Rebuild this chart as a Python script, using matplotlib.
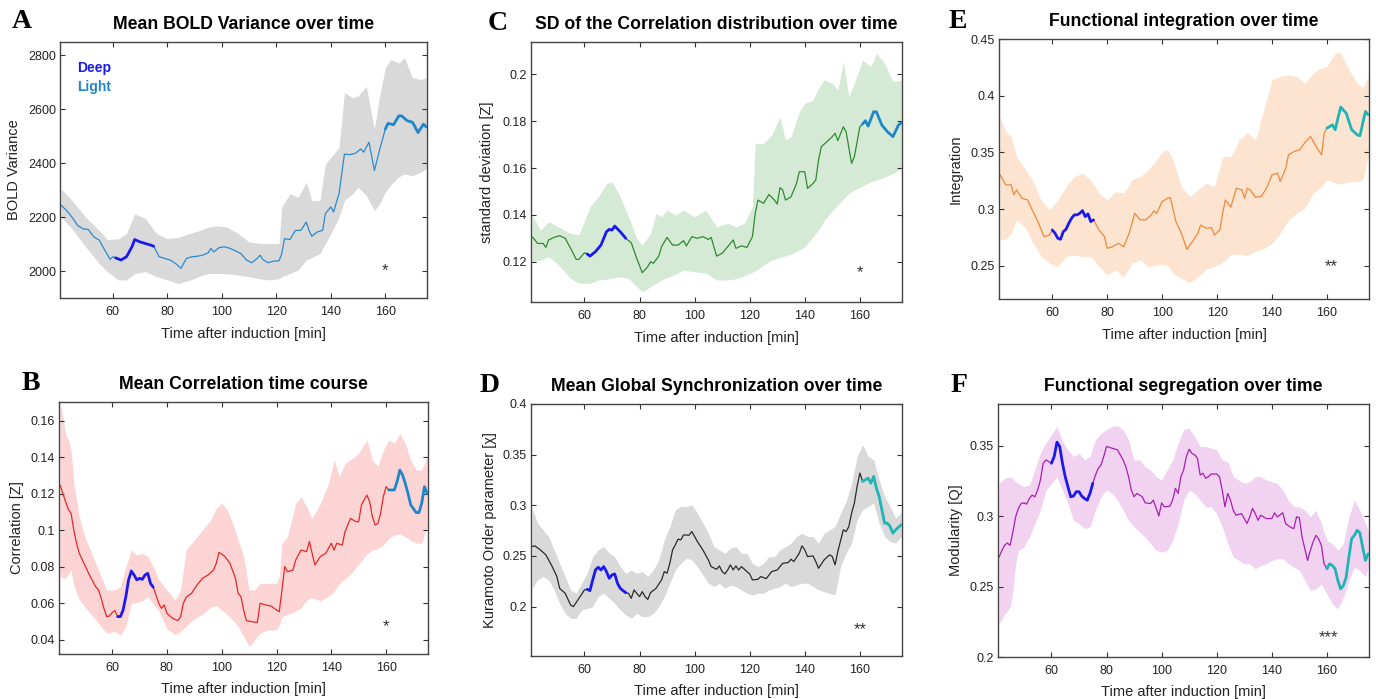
import numpy as np
import matplotlib
matplotlib.use('Agg')
import matplotlib.pyplot as plt
from matplotlib.ticker import FuncFormatter

plt.rcParams['font.family'] = ['Liberation Sans', 'DejaVu Sans']

# ---------------- data ----------------
# A: Mean BOLD variance
tA = [41, 43, 45, 47, 49, 51, 53, 55, 57, 59, 60, 61, 63, 65, 67, 68, 70, 72, 74, 75, 77, 79, 81, 83, 85, 87, 89,
      91, 93, 95, 96, 97, 99, 101, 103, 105, 107, 109, 111, 113, 114, 115, 117, 119, 121, 122, 123, 125, 127, 129,
      131, 132, 133, 135, 137, 138, 140, 141, 143, 145, 147, 149, 151, 152, 154, 156, 158, 160, 161, 163, 165, 166,
      168, 170, 172, 174, 175]
mA = [2244, 2225, 2200, 2170, 2157, 2154, 2127, 2115, 2078, 2043, 2053, 2049, 2041, 2053, 2090, 2117, 2108, 2102,
      2096, 2092, 2053, 2047, 2041, 2028, 2010, 2047, 2053, 2055, 2059, 2068, 2084, 2071, 2087, 2090, 2084, 2075,
      2065, 2041, 2031, 2047, 2059, 2043, 2031, 2037, 2038, 2065, 2120, 2117, 2151, 2151, 2182, 2151, 2129, 2145,
      2151, 2213, 2238, 2219, 2287, 2434, 2432, 2437, 2453, 2441, 2478, 2373, 2453, 2527, 2548, 2543, 2576, 2576,
      2558, 2552, 2514, 2545, 2535]
tbA = [41, 45, 50, 55, 58, 62, 65, 68, 72, 76, 80, 84, 88, 92, 95, 98, 102, 106, 110, 115, 118, 121, 122, 125, 128,
       131, 133, 136, 138, 140, 143, 145, 148, 150, 153, 156, 158, 160, 162, 165, 167, 170, 173, 175]
hiA = [2305, 2262, 2200, 2151, 2117, 2120, 2139, 2213, 2194, 2139, 2120, 2125, 2139, 2151, 2163, 2168, 2163, 2139,
       2108, 2102, 2102, 2102, 2238, 2287, 2274, 2330, 2262, 2262, 2397, 2422, 2459, 2662, 2643, 2650, 2686, 2527,
       2656, 2754, 2785, 2772, 2791, 2717, 2711, 2717]
loA = [2200, 2157, 2090, 2028, 1998, 1967, 1967, 1991, 1998, 1979, 1967, 1954, 1965, 1982, 1991, 1991, 1990, 1985,
       1979, 1969, 1967, 1972, 1979, 1991, 2004, 2041, 2050, 2065, 2102, 2139, 2200, 2262, 2287, 2311, 2281, 2225,
       2250, 2293, 2320, 2350, 2360, 2354, 2367, 2379]

# C: SD of the correlation distribution
tC = [41, 42, 43, 45, 46, 47, 49, 51, 53, 55, 57, 58, 60, 61, 62, 64, 66, 68, 69, 70, 71, 73, 75, 77, 79, 81, 83, 84,
      85, 87, 88, 90, 92, 94, 96, 97, 99, 101, 103, 105, 106, 108, 110, 112, 114, 115, 117, 119, 121, 122, 123, 125,
      127, 129, 130, 131, 132, 133, 135, 137, 138, 140, 141, 143, 144, 145, 146, 148, 150, 151, 152, 154, 155, 157,
      158, 160, 161, 162, 163, 165, 166, 168, 170, 172, 174, 175]
mC = [0.1307, 0.1293, 0.1278, 0.1278, 0.1261, 0.1293, 0.1304, 0.1311, 0.1300, 0.1257, 0.1210, 0.1210, 0.1238,
      0.1233, 0.1224, 0.1243, 0.1271, 0.1328, 0.1338, 0.1335, 0.1352, 0.1328, 0.1300, 0.1281, 0.1214, 0.1153,
      0.1179, 0.1200, 0.1193, 0.1224, 0.1264, 0.1304, 0.1271, 0.1271, 0.1290, 0.1267, 0.1307, 0.1300, 0.1307,
      0.1295, 0.1304, 0.1224, 0.1236, 0.1264, 0.1293, 0.1257, 0.1268, 0.1261, 0.1307, 0.1406, 0.1463, 0.1449,
      0.1487, 0.1463, 0.1446, 0.1516, 0.1506, 0.1463, 0.1477, 0.1534, 0.1584, 0.1584, 0.1513, 0.1534, 0.1549,
      0.1634, 0.1691, 0.1712, 0.1734, 0.1748, 0.1717, 0.1776, 0.1755, 0.1620, 0.1648, 0.1776, 0.1788, 0.1802,
      0.1779, 0.1840, 0.1840, 0.1783, 0.1755, 0.1734, 0.1783, 0.1793]
tbC = [41, 44, 47, 50, 55, 58, 62, 65, 68, 70, 73, 76, 79, 81, 84, 86, 88, 90, 93, 96, 100, 104, 108, 112, 115, 118,
       121, 122, 125, 128, 131, 133, 135, 138, 140, 143, 145, 147, 150, 152, 154, 156, 158, 161, 164, 166, 169, 172,
       175]
hiC = [0.1399, 0.1335, 0.1371, 0.1352, 0.1321, 0.1314, 0.1435, 0.1477, 0.1534, 0.1541, 0.1477, 0.1392, 0.1300,
       0.1271, 0.1321, 0.1406, 0.1392, 0.1420, 0.1399, 0.1420, 0.1392, 0.1420, 0.1349, 0.1364, 0.1349, 0.1364,
       0.1435, 0.1705, 0.1705, 0.1741, 0.1819, 0.1719, 0.1734, 0.1840, 0.1876, 0.1890, 0.1940, 0.1976, 0.1961,
       0.1933, 0.2054, 0.1904, 0.1961, 0.2061, 0.2032, 0.2089, 0.2047, 0.1968, 0.1976]
loC = [0.1200, 0.1207, 0.1221, 0.1193, 0.1129, 0.1108, 0.1108, 0.1122, 0.1125, 0.1130, 0.1136, 0.1129, 0.1093,
       0.1072, 0.1093, 0.1108, 0.1122, 0.1132, 0.1146, 0.1164, 0.1157, 0.1152, 0.1122, 0.1122, 0.1127, 0.1140,
       0.1155, 0.1160, 0.1186, 0.1207, 0.1218, 0.1225, 0.1232, 0.1250, 0.1264, 0.1307, 0.1335, 0.1375, 0.1417,
       0.1442, 0.1467, 0.1492, 0.1506, 0.1525, 0.1541, 0.1548, 0.1562, 0.1577, 0.1598]

# E: Functional integration
tE = [41, 43, 45, 46, 47, 49, 51, 53, 55, 57, 59, 60, 61, 62, 63, 64, 65, 66, 67, 68, 69, 70, 71, 72, 73, 74, 75, 77,
      79, 80, 82, 84, 86, 88, 90, 92, 94, 96, 97, 98, 100, 102, 103, 105, 107, 109, 111, 113, 114, 116, 118, 119, 121,
      122, 123, 125, 127, 129, 130, 131, 132, 134, 136, 138, 140, 142, 143, 145, 146, 148, 150, 152, 154, 156, 158,
      159, 160, 162, 163, 164, 165, 167, 169, 171, 172, 174, 175]
mE = [0.3301, 0.3213, 0.3213, 0.3125, 0.3169, 0.3095, 0.3080, 0.2977, 0.2874, 0.2756, 0.2771, 0.2815, 0.2786,
      0.2742, 0.2733, 0.2800, 0.2821, 0.2874, 0.2918, 0.2948, 0.2948, 0.2962, 0.2986, 0.2933, 0.2957, 0.2889,
      0.2904, 0.2815, 0.2756, 0.2653, 0.2668, 0.2697, 0.2668, 0.2786, 0.2962, 0.2904, 0.2904, 0.2948, 0.2983,
      0.2962, 0.3066, 0.3095, 0.3101, 0.2889, 0.2786, 0.2644, 0.2712, 0.2786, 0.2859, 0.2830, 0.2836, 0.2771,
      0.2815, 0.2962, 0.3080, 0.3016, 0.3183, 0.3169, 0.3095, 0.3183, 0.3169, 0.3104, 0.3110, 0.3183, 0.3301,
      0.3316, 0.3242, 0.3360, 0.3478, 0.3507, 0.3522, 0.3587, 0.3640, 0.3552, 0.3478, 0.3670, 0.3714, 0.3743,
      0.3699, 0.3802, 0.3899, 0.3846, 0.3699, 0.3655, 0.3646, 0.3861, 0.3832]
tbE = [41, 43, 45, 47, 50, 53, 56, 59, 62, 65, 68, 71, 74, 77, 80, 83, 86, 89, 92, 95, 98, 100, 102, 104, 107, 110,
       113, 116, 119, 122, 125, 128, 131, 134, 137, 140, 143, 146, 149, 152, 155, 158, 160, 163, 165, 168, 171, 173,
       175]
hiE = [0.3817, 0.3684, 0.3640, 0.3463, 0.3360, 0.3242, 0.3080, 0.2992, 0.3080, 0.3198, 0.3287, 0.3316, 0.3257,
       0.3139, 0.3080, 0.3154, 0.3139, 0.3257, 0.3287, 0.3346, 0.3434, 0.3507, 0.3522, 0.3434, 0.3198, 0.3110,
       0.3169, 0.3228, 0.3198, 0.3463, 0.3463, 0.3611, 0.3670, 0.3611, 0.3876, 0.4141, 0.4170, 0.4185, 0.4170,
       0.4111, 0.4200, 0.4244, 0.4259, 0.4377, 0.4377, 0.4229, 0.4111, 0.4067, 0.4170]
loE = [0.2727, 0.2735, 0.2780, 0.2904, 0.2845, 0.2697, 0.2580, 0.2521, 0.2491, 0.2580, 0.2594, 0.2580, 0.2580,
       0.2491, 0.2418, 0.2462, 0.2403, 0.2521, 0.2550, 0.2491, 0.2506, 0.2515, 0.2500, 0.2432, 0.2388, 0.2350,
       0.2400, 0.2470, 0.2495, 0.2530, 0.2600, 0.2600, 0.2590, 0.2628, 0.2650, 0.2697, 0.2786, 0.2904, 0.2962,
       0.3007, 0.3139, 0.3198, 0.3260, 0.3230, 0.3220, 0.3242, 0.3242, 0.3257, 0.3463]

# B: Mean correlation
tB = [41, 42, 43, 44, 45, 46, 47, 48, 50, 52, 54, 55, 56, 57, 58, 59, 60, 61, 62, 63, 64, 65, 66, 67, 68, 69, 70, 71,
      72, 73, 74, 75, 76, 77, 78, 79, 80, 82, 84, 85, 86, 87, 89, 91, 93, 95, 97, 98, 99, 101, 103, 105, 106, 107, 108,
      109, 111, 113, 114, 116, 118, 120, 121, 122, 123, 124, 126, 127, 129, 131, 132, 134, 136, 138, 140, 141, 142,
      144, 145, 147, 149, 150, 151, 153, 154, 155, 156, 157, 158, 159, 160, 161, 163, 164, 165, 166, 167, 168, 169,
      171, 172, 173, 174, 175]
mB = [0.1249, 0.1203, 0.1158, 0.1116, 0.1094, 0.1003, 0.0930, 0.0875, 0.0811, 0.0747, 0.0692, 0.0674, 0.0628,
      0.0573, 0.0528, 0.0531, 0.0550, 0.0561, 0.0528, 0.0528, 0.0564, 0.0637, 0.0729, 0.0778, 0.0756, 0.0729,
      0.0738, 0.0732, 0.0756, 0.0765, 0.0710, 0.0689, 0.0647, 0.0601, 0.0573, 0.0592, 0.0546, 0.0519, 0.0506,
      0.0528, 0.0601, 0.0634, 0.0656, 0.0701, 0.0738, 0.0756, 0.0783, 0.0820, 0.0880, 0.0860, 0.0820, 0.0738,
      0.0656, 0.0637, 0.0564, 0.0506, 0.0500, 0.0495, 0.0601, 0.0592, 0.0586, 0.0564, 0.0555, 0.0674, 0.0802,
      0.0774, 0.0783, 0.0838, 0.0893, 0.0884, 0.0939, 0.0811, 0.0857, 0.0875, 0.0930, 0.0893, 0.0930, 0.0920,
      0.0993, 0.1066, 0.1048, 0.1048, 0.1140, 0.1194, 0.1158, 0.1076, 0.1030, 0.1039, 0.1094, 0.1185, 0.1240,
      0.1222, 0.1222, 0.1267, 0.1331, 0.1304, 0.1258, 0.1203, 0.1140, 0.1098, 0.1098, 0.1149, 0.1240, 0.1203]
tbB = [41, 42, 43, 44, 45, 46, 48, 50, 53, 56, 58, 61, 63, 65, 67, 69, 71, 73, 75, 77, 80, 83, 85, 87, 90, 93, 96, 98,
       100, 102, 104, 106, 108, 110, 112, 114, 117, 120, 121, 122, 124, 127, 129, 131, 133, 136, 139, 141, 143, 145,
       147, 150, 153, 155, 157, 159, 161, 163, 165, 167, 169, 171, 173, 175]
hiB = [0.1706, 0.1623, 0.1532, 0.1496, 0.1441, 0.1258, 0.1076, 0.0966, 0.0857, 0.0747, 0.0674, 0.0674, 0.0692,
       0.0802, 0.0893, 0.0866, 0.0875, 0.0857, 0.0802, 0.0729, 0.0674, 0.0619, 0.0674, 0.0893, 0.0948, 0.1003,
       0.1057, 0.1121, 0.1149, 0.1112, 0.1039, 0.0948, 0.0857, 0.0674, 0.0674, 0.0710, 0.0710, 0.0710, 0.0747,
       0.0930, 0.0966, 0.1149, 0.1185, 0.1131, 0.1066, 0.1149, 0.1258, 0.1386, 0.1295, 0.1368, 0.1386, 0.1423,
       0.1496, 0.1386, 0.1350, 0.1441, 0.1496, 0.1478, 0.1532, 0.1478, 0.1386, 0.1331, 0.1331, 0.1405]
loB = [0.0747, 0.0742, 0.0738, 0.0760, 0.0783, 0.0700, 0.0620, 0.0583, 0.0528, 0.0473, 0.0437, 0.0446, 0.0427,
       0.0473, 0.0601, 0.0605, 0.0615, 0.0637, 0.0600, 0.0560, 0.0460, 0.0430, 0.0446, 0.0475, 0.0515, 0.0540,
       0.0580, 0.0590, 0.0564, 0.0540, 0.0510, 0.0473, 0.0418, 0.0363, 0.0400, 0.0437, 0.0455, 0.0455, 0.0480,
       0.0528, 0.0540, 0.0558, 0.0575, 0.0619, 0.0630, 0.0615, 0.0640, 0.0665, 0.0710, 0.0735, 0.0760, 0.0815,
       0.0870, 0.0893, 0.0900, 0.0920, 0.0957, 0.0975, 0.0980, 0.0966, 0.0945, 0.0930, 0.0930, 0.1021]

# D: Mean global synchronization
tD = [41, 42, 44, 46, 48, 50, 51, 53, 55, 56, 58, 60, 61, 62, 63, 64, 65, 66, 67, 68, 69, 70, 71, 72, 73, 74, 75, 76,
      77, 78, 79, 80, 81, 82, 83, 84, 86, 88, 89, 90, 91, 92, 93, 94, 95, 96, 98, 99, 100, 101, 103, 105, 106, 108,
      109, 110, 111, 112, 113, 114, 115, 116, 117, 119, 120, 121, 123, 124, 126, 128, 130, 131, 132, 134, 135, 136,
      138, 139, 140, 141, 143, 144, 145, 147, 149, 150, 151, 152, 154, 155, 156, 157, 158, 159, 160, 161, 162, 163,
      164, 165, 166, 167, 168, 169, 170, 171, 172, 173, 174, 175]
mD = [0.2593, 0.2600, 0.2560, 0.2511, 0.2412, 0.2297, 0.2181, 0.2132, 0.2016, 0.2000, 0.2082, 0.2165, 0.2171,
      0.2158, 0.2264, 0.2362, 0.2389, 0.2362, 0.2395, 0.2346, 0.2280, 0.2313, 0.2323, 0.2231, 0.2181, 0.2158,
      0.2138, 0.2132, 0.2082, 0.2165, 0.2132, 0.2099, 0.2148, 0.2099, 0.2072, 0.2138, 0.2181, 0.2264, 0.2346,
      0.2330, 0.2428, 0.2560, 0.2610, 0.2666, 0.2659, 0.2708, 0.2705, 0.2741, 0.2692, 0.2643, 0.2560, 0.2461,
      0.2395, 0.2369, 0.2402, 0.2346, 0.2323, 0.2362, 0.2412, 0.2362, 0.2402, 0.2362, 0.2395, 0.2346, 0.2323,
      0.2264, 0.2270, 0.2297, 0.2277, 0.2346, 0.2362, 0.2395, 0.2428, 0.2435, 0.2468, 0.2445, 0.2527, 0.2600,
      0.2560, 0.2494, 0.2501, 0.2445, 0.2379, 0.2461, 0.2511, 0.2494, 0.2412, 0.2544, 0.2758, 0.2741, 0.2791,
      0.2923, 0.3021, 0.3186, 0.3318, 0.3236, 0.3252, 0.3269, 0.3219, 0.3285, 0.3170, 0.3087, 0.2956, 0.2824,
      0.2824, 0.2791, 0.2725, 0.2758, 0.2784, 0.2807]
tbD = list(range(41, 176, 2))
hiD = [0.2972, 0.2824, 0.2758, 0.2692, 0.2560, 0.2428, 0.2297, 0.2165, 0.2132, 0.2231, 0.2330, 0.2494, 0.2560,
       0.2593, 0.2527, 0.2494, 0.2395, 0.2330, 0.2362, 0.2330, 0.2346, 0.2297, 0.2362, 0.2461, 0.2659, 0.2791,
       0.2956, 0.2989, 0.2989, 0.3005, 0.2923, 0.2824, 0.2725, 0.2593, 0.2560, 0.2527, 0.2577, 0.2593, 0.2527,
       0.2527, 0.2428, 0.2395, 0.2428, 0.2494, 0.2494, 0.2560, 0.2593, 0.2626, 0.2692, 0.2725, 0.2692, 0.2692,
       0.2626, 0.2725, 0.2758, 0.2791, 0.2923, 0.3038, 0.3219, 0.3483, 0.3598, 0.3483, 0.3450, 0.3252, 0.3087,
       0.2989, 0.2873, 0.2923]
loD = [0.2181, 0.2264, 0.2297, 0.2264, 0.2165, 0.2033, 0.1934, 0.1885, 0.1885, 0.1967, 0.1984, 0.2000, 0.2099,
       0.2132, 0.2082, 0.2033, 0.1967, 0.1918, 0.1885, 0.1934, 0.1901, 0.1901, 0.1934, 0.2000, 0.2099, 0.2231,
       0.2362, 0.2428, 0.2478, 0.2461, 0.2395, 0.2313, 0.2231, 0.2198, 0.2231, 0.2181, 0.2214, 0.2198, 0.2165,
       0.2132, 0.2115, 0.2132, 0.2132, 0.2165, 0.2181, 0.2198, 0.2231, 0.2198, 0.2214, 0.2231, 0.2231, 0.2198,
       0.2165, 0.2148, 0.2132, 0.2115, 0.2395, 0.2527, 0.2626, 0.2857, 0.2956, 0.2989, 0.3021, 0.2824, 0.2692,
       0.2643, 0.2626, 0.2692]

# F: Functional segregation
tF = [41, 42, 43, 44, 45, 46, 47, 48, 49, 50, 51, 52, 53, 54, 55, 56, 57, 58, 59, 60, 61, 62, 63, 64, 65, 66, 67, 68,
      69, 70, 71, 72, 73, 74, 75, 76, 77, 78, 79, 80, 82, 84, 86, 87, 88, 89, 90, 91, 93, 94, 96, 97, 99, 100, 101,
      103, 104, 105, 106, 107, 108, 109, 110, 111, 112, 113, 114, 115, 116, 117, 118, 120, 121, 122, 123, 124, 125,
      126, 127, 129, 131, 132, 133, 134, 135, 136, 138, 139, 140, 141, 142, 144, 145, 147, 148, 149, 150, 151, 153,
      154, 155, 156, 157, 158, 159, 160, 161, 162, 163, 164, 165, 166, 167, 168, 169, 170, 171, 172, 173, 174, 175]
mF = [0.2710, 0.2757, 0.2793, 0.2810, 0.2793, 0.2888, 0.2995, 0.3055, 0.3090, 0.3095, 0.3086, 0.3126, 0.3150,
      0.3138, 0.3186, 0.3257, 0.3376, 0.3400, 0.3388, 0.3376, 0.3424, 0.3526, 0.3495, 0.3376, 0.3281, 0.3209,
      0.3138, 0.3143, 0.3174, 0.3174, 0.3143, 0.3126, 0.3114, 0.3162, 0.3233, 0.3293, 0.3340, 0.3364, 0.3424,
      0.3495, 0.3483, 0.3471, 0.3400, 0.3352, 0.3281, 0.3186, 0.3138, 0.3162, 0.3138, 0.3095, 0.3090, 0.3114,
      0.3002, 0.3095, 0.3067, 0.3071, 0.3114, 0.3198, 0.3162, 0.3281, 0.3329, 0.3424, 0.3476, 0.3447, 0.3436,
      0.3412, 0.3293, 0.3305, 0.3269, 0.3281, 0.3300, 0.3300, 0.3281, 0.3186, 0.3067, 0.3162, 0.3114, 0.3043,
      0.3007, 0.3019, 0.2948, 0.2995, 0.3055, 0.3019, 0.2971, 0.3007, 0.2983, 0.2983, 0.2983, 0.3024, 0.2995,
      0.3024, 0.2948, 0.2919, 0.2912, 0.2995, 0.2990, 0.2852, 0.2686, 0.2757, 0.2817, 0.2864, 0.2840, 0.2793,
      0.2662, 0.2626, 0.2662, 0.2650, 0.2626, 0.2543, 0.2484, 0.2507, 0.2567, 0.2710, 0.2840, 0.2864, 0.2900,
      0.2881, 0.2781, 0.2686, 0.2733]
tbF = [41, 43, 45, 46, 47, 48] + list(range(50, 176, 2)) + [175]
hiF = [0.3233, 0.3269, 0.3281, 0.3265, 0.3245, 0.3233, 0.3210, 0.3220, 0.3330, 0.3450, 0.3520, 0.3580, 0.3638,
       0.3531, 0.3471, 0.3424, 0.3448, 0.3400, 0.3424, 0.3543, 0.3590, 0.3614, 0.3638, 0.3643, 0.3614, 0.3543,
       0.3400, 0.3400, 0.3352, 0.3329, 0.3281, 0.3257, 0.3329, 0.3400, 0.3519, 0.3614, 0.3626, 0.3566, 0.3495,
       0.3495, 0.3483, 0.3471, 0.3400, 0.3388, 0.3281, 0.3257, 0.3233, 0.3245, 0.3281, 0.3281, 0.3257, 0.3245,
       0.3233, 0.3186, 0.3114, 0.3067, 0.3067, 0.3043, 0.2995, 0.3043, 0.2948, 0.2829, 0.2805, 0.2757, 0.2805,
       0.2995, 0.3114, 0.3043, 0.2948, 0.2900]
loF = [0.2234, 0.2305, 0.2353, 0.2472, 0.2662, 0.2757, 0.2781, 0.2852, 0.2948, 0.3043, 0.3186, 0.3233, 0.3281,
       0.3186, 0.3090, 0.2971, 0.2948, 0.2912, 0.2924, 0.3043, 0.3138, 0.3186, 0.3162, 0.3114, 0.3043, 0.2971,
       0.2924, 0.2888, 0.2852, 0.2805, 0.2757, 0.2745, 0.2757, 0.2829, 0.2948, 0.3114, 0.3186, 0.3162, 0.3114,
       0.3067, 0.3067, 0.3019, 0.2924, 0.2805, 0.2710, 0.2686, 0.2662, 0.2662, 0.2626, 0.2650, 0.2662, 0.2686,
       0.2698, 0.2698, 0.2662, 0.2638, 0.2614, 0.2543, 0.2472, 0.2484, 0.2519, 0.2448, 0.2376, 0.2341, 0.2424,
       0.2543, 0.2638, 0.2614, 0.2567, 0.2638]

# ---------------- style ----------------
DEEP = '#1a1aee'
LBLUE = '#1f86cc'
CYAN = '#1fb5b5'
W, H = 1376, 699

panels = [
    dict(letter='A', title='Mean BOLD Variance over time', ylabel='BOLD Variance',
         t=tA, m=mA, tb=tbA, hi=hiA, lo=loA, lc='#2b8ad0', fc='#d9d9d9', light=LBLUE,
         deep_win=(61, 75), light_win=(160, 175), ylim=(1900, 2850), yticks=[2000, 2200, 2400, 2600, 2800],
         stars='*', star_xy=(160, 2000), box=(60, 42, 427, 298), lpos=(12, 28), ylx=-0.106),
    dict(letter='C', title='SD of the Correlation distribution over time', ylabel='standard deviation [Z]',
         t=tC, m=mC, tb=tbC, hi=hiC, lo=loC, lc='#2e8b2e', fc='#d4ead4', light=LBLUE,
         deep_win=(61, 75), light_win=(161, 175), ylim=(0.1028, 0.2138), yticks=[0.12, 0.14, 0.16, 0.18, 0.2],
         stars='*', star_xy=(160, 0.1152), box=(531, 42, 902, 302), lpos=(488, 30), ylx=-0.1),
    dict(letter='E', title='Functional integration over time', ylabel='Integration',
         t=tE, m=mE, tb=tbE, hi=hiE, lo=loE, lc='#f0893a', fc='#fde4d1', light=CYAN,
         deep_win=(60, 75), light_win=(160, 175), ylim=(0.2206, 0.45), yticks=[0.25, 0.3, 0.35, 0.4, 0.45],
         stars='**', star_xy=(161.5, 0.249), box=(999, 39, 1369, 299), lpos=(949, 28), ylx=-0.097),
    dict(letter='B', title='Mean Correlation time course', ylabel='Correlation [Z]',
         t=tB, m=mB, tb=tbB, hi=hiB, lo=loB, lc='#e62828', fc='#fdd4d4', light=LBLUE,
         deep_win=(62, 75), light_win=(161, 175), ylim=(0.0323, 0.1704),
         yticks=[0.04, 0.06, 0.08, 0.1, 0.12, 0.14, 0.16],
         stars='*', star_xy=(160, 0.0475), box=(59, 402, 428, 654), lpos=(22, 390), ylx=-0.095),
    dict(letter='D', title='Mean Global Synchronization over time', ylabel='Kuramoto Order parameter [χ]',
         t=tD, m=mD, tb=tbD, hi=hiD, lo=loD, lc='#2a2a2a', fc='#d9d9d9', light=CYAN,
         deep_win=(61, 75), light_win=(161, 175), ylim=(0.1513, 0.4), yticks=[0.2, 0.25, 0.3, 0.35, 0.4],
         stars='**', star_xy=(160, 0.177), box=(531, 404, 902, 656), lpos=(480, 392), ylx=-0.092),
    dict(letter='F', title='Functional segregation over time', ylabel='Modularity [Q]',
         t=tF, m=mF, tb=tbF, hi=hiF, lo=loF, lc='#a820b0', fc='#f1d3f1', light=CYAN,
         deep_win=(60, 75), light_win=(160, 175), ylim=(0.2, 0.3797), yticks=[0.2, 0.25, 0.3, 0.35],
         stars='***', star_xy=(160.5, 0.214), box=(998, 404, 1369, 657), lpos=(951, 392), ylx=-0.094),
]

fig = plt.figure(figsize=(W / 100, H / 100), dpi=100)

for p in panels:
    l, tp, r, b = p['box']
    ax = fig.add_axes([l / W, 1 - b / H, (r - l) / W, (b - tp) / H])
    t = np.array(p['t'])
    m = np.array(p['m'])
    ax.fill_between(p['tb'], p['lo'], p['hi'], color=p['fc'], lw=0, zorder=1)
    ax.plot(t, m, color=p['lc'], lw=0.9, zorder=2)
    d0, d1 = p['deep_win']
    k = (t >= d0) & (t <= d1)
    ax.plot(t[k], m[k], color=DEEP, lw=2.0, zorder=3, solid_capstyle='round')
    l0, l1 = p['light_win']
    k = (t >= l0) & (t <= l1)
    ax.plot(t[k], m[k], color=p['light'], lw=2.0, zorder=3, solid_capstyle='round')

    ax.set_xlim(40.6, 175.3)
    ax.set_ylim(*p['ylim'])
    ax.set_xticks([60, 80, 100, 120, 140, 160])
    ax.set_yticks(p['yticks'])
    ax.yaxis.set_major_formatter(FuncFormatter(lambda v, pos: ('%g' % round(v, 4))))
    ax.tick_params(direction='in', length=3.5, width=0.8, top=True, right=True, labelsize=9,
                   colors='#333333', labelcolor='#222222')
    ax.tick_params(axis='x', pad=6)
    ax.tick_params(axis='y', pad=3)
    for s in ax.spines.values():
        s.set_color('#444444')
        s.set_linewidth(1.0)

    ax.set_xlabel('Time after induction [min]', fontsize=10.5, color='#222222')
    ax.xaxis.set_label_coords(0.5, -0.112)
    ax.set_ylabel(p['ylabel'], fontsize=10.5, color='#222222')
    ax.yaxis.set_label_coords(p['ylx'], 0.5)
    ax.set_title(p['title'], fontsize=12.7, fontweight='bold', pad=9.5)

    ax.text(p['star_xy'][0], p['star_xy'][1], p['stars'], ha='center', va='center', fontsize=12,
            color='#333333', zorder=4)

    fig.text(p['lpos'][0] / W, 1 - p['lpos'][1] / H, p['letter'], family='Liberation Serif',
             fontweight='bold', fontsize=20, ha='left', va='baseline')

    if p['letter'] == 'A':
        ax.text(0.046, 0.898, 'Deep', transform=ax.transAxes, color=DEEP, fontweight='bold', fontsize=10,
                va='center')
        ax.text(0.046, 0.824, 'Light', transform=ax.transAxes, color=LBLUE, fontweight='bold', fontsize=10,
                va='center')

fig.savefig('out.png', dpi=100)
